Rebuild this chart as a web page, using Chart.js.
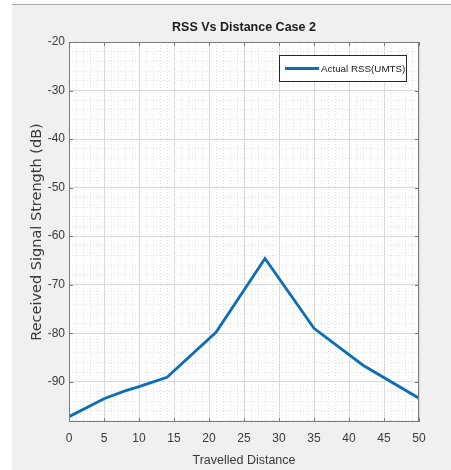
<!DOCTYPE html>
<html>
<head>
<meta charset="utf-8">
<script src="https://cdn.jsdelivr.net/npm/chart.js@4.4.0/dist/chart.umd.min.js"></script>
<style>
  html, body { margin: 0; padding: 0; background: #fff; }
  #wrap { width: 451px; height: 470px; }
</style>
</head>
<body>
<div id="wrap"><canvas id="rss" width="451" height="470"></canvas></div>
<script>
// values
const distance = [0, 5, 8, 10, 14, 21, 28, 35, 42, 50];
const rssUmts = [-97.2, -93.5, -91.9, -91.0, -89.1, -79.8, -64.6, -79.0, -86.6, -93.4];
const xTicks = [0, 5, 10, 15, 20, 25, 30, 35, 40, 45, 50];
const yTicks = [-90, -80, -70, -60, -50, -40, -30, -20];

const sans = "'Liberation Sans', Arial, sans-serif";
const tickColor = "#3a3a3a";
const lineBlue = "#0f6db5";

// grey figure background + white axes background
const figureBg = {
  id: "figureBg",
  beforeDraw(chart) {
    const { ctx, chartArea: a } = chart;
    ctx.save();
    ctx.fillStyle = "#fff";
    ctx.fillRect(0, 0, chart.width, chart.height);
    ctx.fillStyle = "#f0f0f0";
    ctx.fillRect(12, 4, chart.width - 12, chart.height - 4);
    ctx.strokeStyle = "#a8a8a8";
    ctx.lineWidth = 1;
    ctx.beginPath();
    ctx.moveTo(12, 4.5);
    ctx.lineTo(chart.width, 4.5);
    ctx.stroke();
    ctx.fillStyle = "#fff";
    ctx.fillRect(a.left, a.top, a.right - a.left, a.bottom - a.top);
    ctx.restore();
  },
};

// legend box in the upper right of the axes, matlab style
const boxLegend = {
  id: "boxLegend",
  afterDatasetsDraw(chart) {
    const { ctx, chartArea: a } = chart;
    const ds = chart.data.datasets[0];
    const w = 127, h = 26;
    const x = a.right - 13 - w, y = a.top + 13;
    ctx.save();
    ctx.fillStyle = "#fff";
    ctx.fillRect(x, y, w, h);
    ctx.strokeStyle = "#262626";
    ctx.lineWidth = 1;
    ctx.strokeRect(x + 0.5, y + 0.5, w, h);
    ctx.strokeStyle = ds.borderColor;
    ctx.lineWidth = 2.8;
    ctx.beginPath();
    ctx.moveTo(x + 6, y + h / 2 + 0.5);
    ctx.lineTo(x + 40, y + h / 2 + 0.5);
    ctx.stroke();
    ctx.fillStyle = "#1a1a1a";
    ctx.font = "9.8px " + sans;
    ctx.textBaseline = "middle";
    ctx.fillText(ds.label, x + 42, y + h / 2 + 1);
    ctx.restore();
  },
};

// axes box with inward tick marks
const axesBox = {
  id: "axesBox",
  afterDraw(chart) {
    const { ctx, chartArea: a, scales } = chart;
    ctx.save();
    ctx.strokeStyle = "#7a7a7a";
    ctx.lineWidth = 1;
    ctx.strokeRect(a.left + 0.5, a.top + 0.5, a.right - a.left - 1, a.bottom - a.top - 1);
    ctx.beginPath();
    scales.x.ticks.forEach((t) => {
      const px = Math.round(scales.x.getPixelForValue(t.value)) + 0.5;
      ctx.moveTo(px, a.bottom);
      ctx.lineTo(px, a.bottom - 4);
      ctx.moveTo(px, a.top);
      ctx.lineTo(px, a.top + 4);
    });
    scales.y.ticks.forEach((t) => {
      const py = Math.round(scales.y.getPixelForValue(t.value)) + 0.5;
      ctx.moveTo(a.left, py);
      ctx.lineTo(a.left + 4, py);
      ctx.moveTo(a.right, py);
      ctx.lineTo(a.right - 4, py);
    });
    ctx.stroke();
    ctx.restore();
  },
};

const ctx = document.getElementById("rss").getContext("2d");
window.chart = new Chart(ctx, {
  type: "line",
  data: {
    datasets: [
      {
        label: "Actual RSS(UMTS)",
        data: distance.map((d, i) => ({ x: d, y: rssUmts[i] })),
        borderColor: lineBlue,
        backgroundColor: lineBlue,
        borderWidth: 2.8,
        pointRadius: 0,
        tension: 0,
        fill: false,
      },
    ],
  },
  options: {
    responsive: false,
    animation: false,
    layout: {
      padding: { left: 12, right: 32, top: 0, bottom: 0 },
    },
    scales: {
      x: {
        type: "linear",
        position: "bottom",
        min: 0,
        max: 50,
        afterBuildTicks: (s) => {
          s.ticks = xTicks.map((v) => ({ value: v }));
        },
        afterFit: (s) => {
          s.height = 48;
        },
        ticks: {
          font: { family: sans, size: 12 },
          color: tickColor,
          padding: 9,
          maxRotation: 0,
          autoSkip: false,
        },
        grid: { color: "#dadada", drawTicks: false },
        border: { display: false },
        title: {
          display: true,
          text: "Travelled Distance",
          font: { family: sans, size: 12.5 },
          color: tickColor,
          padding: { top: 0, bottom: 2 },
        },
      },
      xMinor: {
        type: "linear",
        position: "bottom",
        min: 0,
        max: 50,
        afterFit: (s) => {
          s.height = 0;
        },
        ticks: { display: false, stepSize: 1 },
        grid: {
          drawTicks: false,
          color: (c) => (c.tick && c.tick.value % 5 === 0 ? "transparent" : "#e2e2e2"),
        },
        border: { display: false, dash: [1, 2] },
      },
      y: {
        type: "linear",
        position: "left",
        min: -98.3,
        max: -20,
        afterBuildTicks: (s) => {
          s.ticks = yTicks.map((v) => ({ value: v }));
        },
        afterFit: (s) => {
          s.width = 57;
        },
        ticks: {
          font: { family: sans, size: 12 },
          color: tickColor,
          padding: 4,
        },
        grid: { color: "#dadada", drawTicks: false },
        border: { display: false },
        title: {
          display: true,
          text: "Received Signal Strength (dB)",
          font: { family: "'DejaVu Sans', sans-serif", size: 14.5 },
          color: tickColor,
          padding: { top: 17, bottom: 0 },
        },
      },
      yMinor: {
        type: "linear",
        position: "left",
        min: -98.3,
        max: -20,
        afterFit: (s) => {
          s.width = 0;
        },
        ticks: { display: false, stepSize: 2, includeBounds: false },
        grid: {
          drawTicks: false,
          color: (c) => (c.tick && c.tick.value % 10 === 0 ? "transparent" : "#e2e2e2"),
        },
        border: { display: false, dash: [1, 2] },
      },
    },
    plugins: {
      legend: { display: false },
      tooltip: { enabled: false },
      title: {
        display: true,
        fullSize: false,
        text: "RSS Vs Distance Case 2",
        font: { family: sans, size: 12.5, weight: "bold" },
        color: "#1a1a1a",
        padding: { top: 20, bottom: 7 },
      },
    },
  },
  plugins: [figureBg, boxLegend, axesBox],
});
</script>
</body>
</html>
